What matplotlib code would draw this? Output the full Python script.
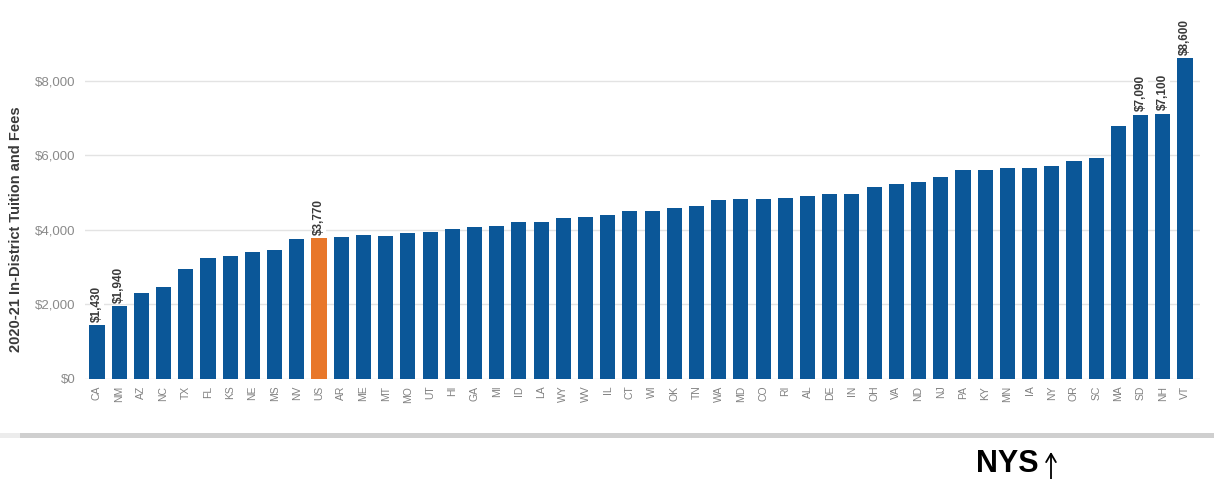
import matplotlib
matplotlib.use("Agg")
import matplotlib.pyplot as plt
from matplotlib.patches import Rectangle, FancyArrowPatch

plt.rcParams['font.family'] = ['Liberation Sans', 'DejaVu Sans']

states = ["CA", "NM", "AZ", "NC", "TX", "FL", "KS", "NE", "MS", "NV",
          "US", "AR", "ME", "MT", "MO", "UT", "HI", "GA", "MI", "ID",
          "LA", "WY", "WV", "IL", "CT", "WI", "OK", "TN", "WA", "MD",
          "CO", "RI", "AL", "DE", "IN", "OH", "VA", "ND", "NJ", "PA",
          "KY", "MN", "IA", "NY", "OR", "SC", "MA", "SD", "NH", "VT"]
tuition = [1430, 1940, 2300, 2450, 2950, 3250, 3300, 3400, 3450, 3750,
           3770, 3810, 3850, 3840, 3920, 3940, 4030, 4065, 4090, 4200,
           4200, 4310, 4350, 4400, 4500, 4510, 4575, 4637, 4790, 4825,
           4825, 4843, 4897, 4959, 4959, 5147, 5228, 5281, 5424, 5604,
           5604, 5657, 5657, 5703, 5845, 5918, 6785, 7090, 7100, 8600]
labelled = {"CA", "NM", "US", "SD", "NH", "VT"}
yticks = [0, 2000, 4000, 6000, 8000]

BLUE = "#0b5798"
ORANGE = "#e8772a"

W, H = 1214, 479
fig = plt.figure(figsize=(W / 100, H / 100), dpi=100)

# axes placed in pixel terms: $0 baseline at y=378.7, $8,000 at y=80.7
ax_left, ax_right = 85, 1200
y0_px, y8k_px = 378.7, 80.7
px_per_unit = (y0_px - y8k_px) / 8000
ytop = y0_px / px_per_unit
ax = fig.add_axes([ax_left / W, (H - y0_px) / H, (ax_right - ax_left) / W, y0_px / H])

xs = list(range(len(states)))
colors = [ORANGE if s == "US" else BLUE for s in states]
ax.bar(xs, tuition, width=0.68, color=colors, zorder=3)

step = (1185 - 97) / 49
ax.set_xlim(-(97 - ax_left) / step, 49 + (ax_right - 1185) / step)
ax.set_ylim(0, ytop)

for x, s, v in zip(xs, states, tuition):
    if s in labelled:
        ax.text(x, v + 100, f"${v:,}", rotation=90, ha="center", va="bottom",
                fontsize=8.5, fontweight="bold", color="#3a3a3a", zorder=4,
                bbox=dict(boxstyle="square,pad=0.1", fc="white", ec="none"))

ax.set_yticks(yticks)
ax.set_yticklabels([f"${t:,}" for t in yticks], fontsize=9.5, color="#8a8a8a")
ax.set_xticks(xs)
ax.set_xticklabels(states, rotation=90, fontsize=7.5, color="#808080")
ax.tick_params(axis="y", length=0, pad=7)
ax.tick_params(axis="x", length=0, pad=5)
for sp in ax.spines.values():
    sp.set_visible(False)
for t in yticks:
    ax.axhline(t, color="#e3e3e3", lw=1, zorder=1)

fig.text(16 / W, 1 - 229 / H, "2020-21 In-District Tuition and Fees", rotation=90,
         ha="center", va="center", fontsize=10.5, fontweight="bold", color="#3a3a3a")

# gray separator band below the chart
fig.patches.append(Rectangle((20 / W, 1 - 438 / H), 1 - 20 / W, 5 / H,
                             transform=fig.transFigure, fc="#cfcfcf", ec="none"))
fig.patches.append(Rectangle((0, 1 - 438 / H), 20 / W, 5 / H,
                             transform=fig.transFigure, fc="#ececec", ec="none"))

# "NYS" marker with an upward arrow pointing at the NY bar
fig.text(976 / W, 1 - 472 / H, "NYS", ha="left", va="baseline",
         fontsize=22, fontweight="bold", color="black")
fig.add_artist(FancyArrowPatch((1051 / W, 0.0), (1051 / W, 1 - 452 / H),
                               transform=fig.transFigure,
                               arrowstyle="->,head_length=0.6,head_width=0.35",
                               mutation_scale=10, lw=1.3, color="black",
                               shrinkA=0, shrinkB=0))

fig.savefig("out.png", dpi=100, facecolor="white")
